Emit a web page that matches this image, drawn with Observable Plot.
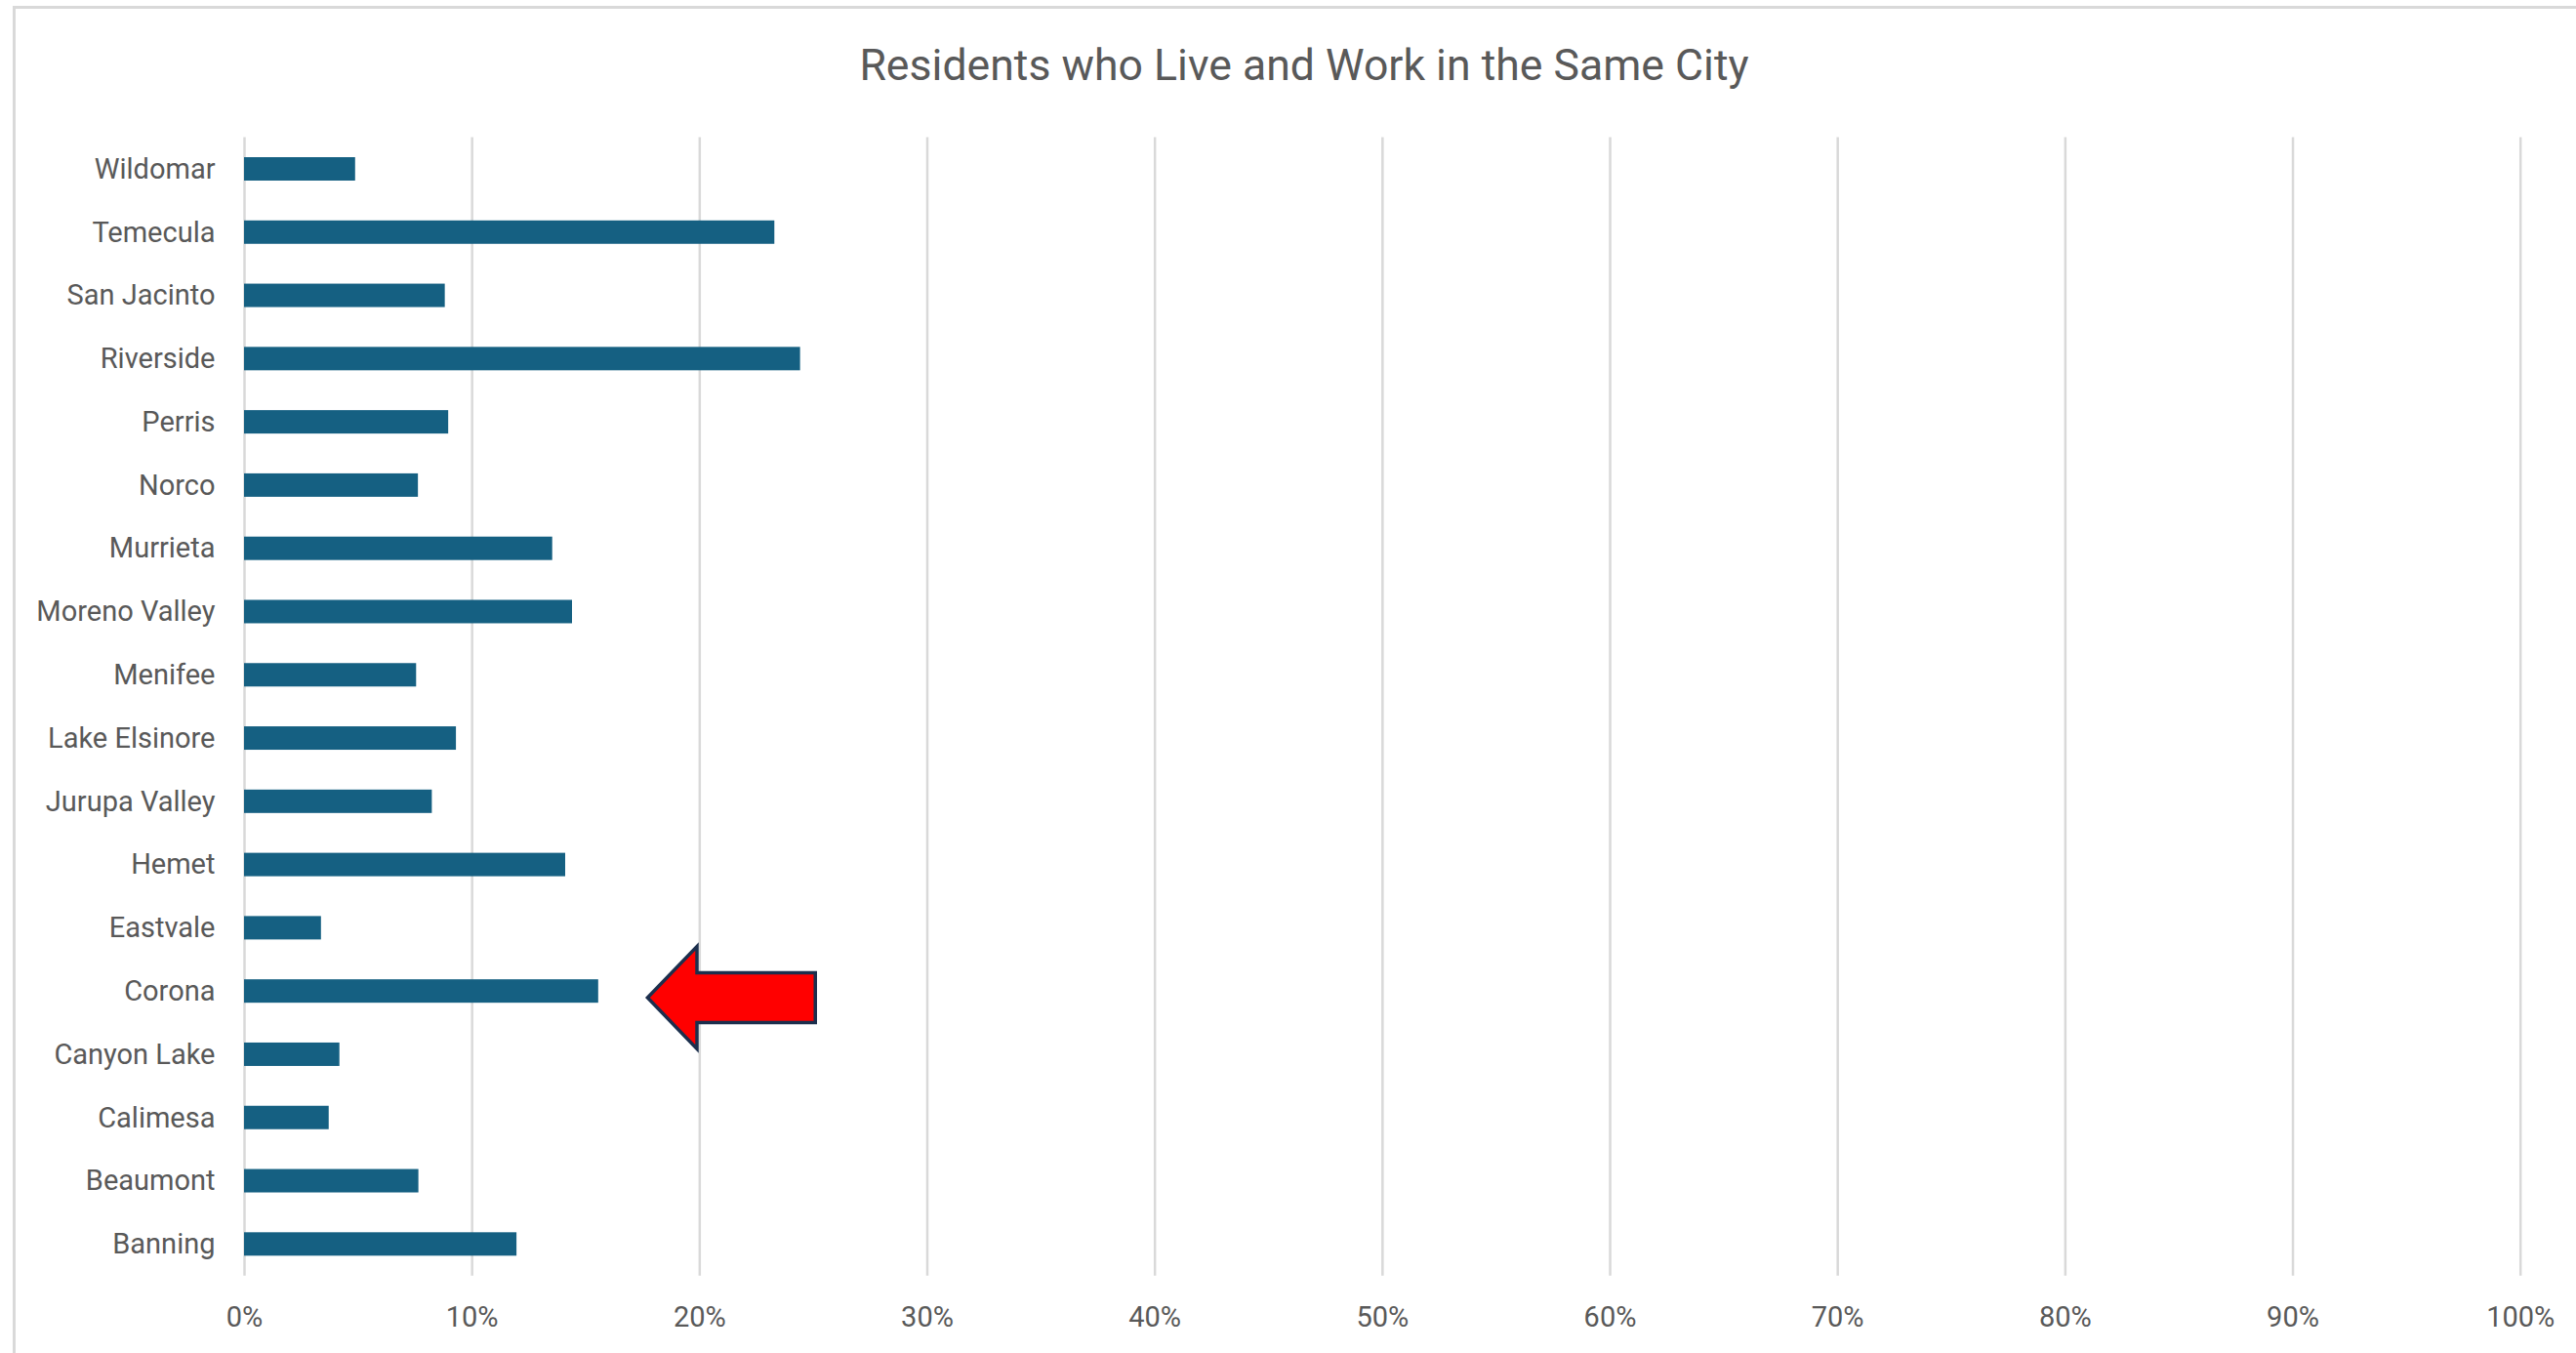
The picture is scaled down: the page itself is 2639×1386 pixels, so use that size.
<!DOCTYPE html>
<html>
<head>
<meta charset="utf-8">
<script src="https://cdn.jsdelivr.net/npm/d3@7"></script>
<script src="https://cdn.jsdelivr.net/npm/@observablehq/plot@0.6"></script>
<style>
  html, body { margin: 0; padding: 0; background: #ffffff; overflow: hidden; }
  #wrap { position: relative; width: 2639px; height: 1386px; }
  #frame { position: absolute; left: 13px; top: 6px; width: 2700px; height: 1500px;
           border-top: 3px solid #d9d9d9; border-left: 3px solid #d9d9d9; pointer-events: none; }
  #title { height: 110px; box-sizing: border-box; padding-top: 45px; padding-left: 33px; line-height: 44px;
           font-family: Roboto, sans-serif; font-size: 44.6px; color: #595959; text-align: center; }
  #chart svg { display: block; }
</style>
</head>
<body>
<div id="wrap">
  <div id="frame"></div>
  <div id="title">Residents who Live and Work in the Same City</div>
  <div id="chart"></div>
</div>
<script>
const cities = ["Wildomar", "Temecula", "San Jacinto", "Riverside", "Perris", "Norco", "Murrieta",
  "Moreno Valley", "Menifee", "Lake Elsinore", "Jurupa Valley", "Hemet", "Eastvale", "Corona",
  "Canyon Lake", "Calimesa", "Beaumont", "Banning"];
const shares = [0.0488, 0.233, 0.0882, 0.2443, 0.0897, 0.0764, 0.1354,
  0.1441, 0.0756, 0.0931, 0.0825, 0.1411, 0.0338, 0.1556,
  0.0419, 0.0372, 0.0766, 0.1197];
const xTicks = [0, 0.1, 0.2, 0.3, 0.4, 0.5, 0.6, 0.7, 0.8, 0.9, 1.0];
const xTickLabels = ["0%", "10%", "20%", "30%", "40%", "50%", "60%", "70%", "80%", "90%", "100%"];
// highlighted city and the arrow's extent in data units
const highlightCity = ["Corona"];
const arrowSpan = [0.1773, 0.199, 0.251]; // tip, head base, tail

const data = cities.map((c, i) => ({city: c, value: shares[i]}));

const chart = Plot.plot({
  width: 2639,
  height: 1276,
  marginTop: 30.6,
  marginBottom: 79.3,
  marginLeft: 250,
  marginRight: 57.3,
  style: {fontFamily: "Roboto, sans-serif", background: "transparent"},
  x: {domain: [0, 1]},
  y: {domain: cities, padding: 0, round: false},
  marks: [
    Plot.gridX(xTicks, {stroke: "#d9d9d9", strokeOpacity: 1, strokeWidth: 2.5}),
    Plot.barX(data, {x: "value", y: "city", fill: "#156082", insetTop: 20.4, insetBottom: 20.4}),
    Plot.axisX({ticks: xTicks, tickFormat: (d) => xTickLabels[xTicks.indexOf(d)], tickSize: 0, tickPadding: 31,
      fontSize: 29, fill: "#595959", label: null}),
    Plot.axisY({tickSize: 0, tickPadding: 30, fontSize: 29, fill: "#595959", label: null})
  ]
});
document.getElementById("chart").appendChild(chart);

// arrow annotation pointing at the highlighted bar
const sx = chart.scale("x"), sy = chart.scale("y");
const xTip = sx.apply(arrowSpan[0]), xBase = sx.apply(arrowSpan[1]), xTail = sx.apply(arrowSpan[2]);
const cy = sy.apply(highlightCity[0]) + sy.bandwidth / 2 + sy.bandwidth * 0.105;
const hh = sy.bandwidth * 0.81, sh = sy.bandwidth * 0.395;
const path = d3.path();
path.moveTo(xTip, cy);
path.lineTo(xBase, cy - hh);
path.lineTo(xBase, cy - sh);
path.lineTo(xTail, cy - sh);
path.lineTo(xTail, cy + sh);
path.lineTo(xBase, cy + sh);
path.lineTo(xBase, cy + hh);
path.closePath();
d3.select(chart).append("path")
  .attr("d", path.toString())
  .attr("fill", "#ff0000")
  .attr("stroke", "#1c2f4d")
  .attr("stroke-width", 3.5)
  .attr("stroke-linejoin", "miter");
</script>
</body>
</html>
